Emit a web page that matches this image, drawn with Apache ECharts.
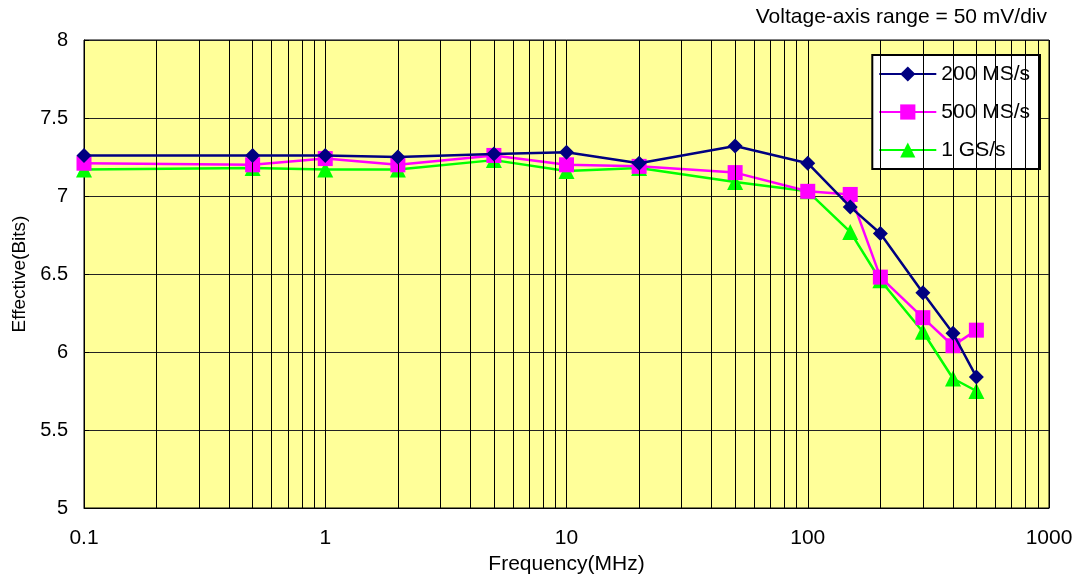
<!DOCTYPE html>
<html>
<head>
<meta charset="utf-8">
<script src="https://cdn.jsdelivr.net/npm/echarts@6/dist/echarts.min.js"></script>
<style>
  html, body { margin: 0; padding: 0; background: #fff; }
  #chart { width: 1086px; height: 582px; }
</style>
</head>
<body>
<div id="chart"></div>
<script>
// Frequency sweep (MHz) and effective number of bits per sample rate
const frequencies = [0.1, 0.5, 1, 2, 5, 10, 20, 50, 100, 150, 200, 300, 400, 500];
const enob200MS = [7.26, 7.26, 7.26, 7.25, 7.27, 7.28, 7.21, 7.32, 7.21, 6.93, 6.76, 6.38, 6.12, 5.84];
const enob500MS = [7.21, 7.20, 7.24, 7.20, 7.26, 7.20, 7.19, 7.15, 7.03, 7.01, 6.48, 6.22, 6.04, 6.14];
const enob1GS   = [7.17, 7.18, 7.17, 7.17, 7.23, 7.16, 7.18, 7.09, 7.03, 6.77, 6.46, 6.13, 5.83, 5.75];
const seriesNames = ['200 MS/s', '500 MS/s', '1 GS/s'];
// Intermediate log grid positions (2..9 in each decade)
const logGridValues = [];
[0.1, 1, 10, 100].forEach(function (d) {
  for (let k = 2; k <= 9; k++) logGridValues.push(+(d * k).toPrecision(3));
});

const font = 'Liberation Sans, Arial, sans-serif';

function pairs(vals) {
  return frequencies.map(function (f, i) { return [f, vals[i]]; });
}

const chart = echarts.init(document.getElementById('chart'));
chart.setOption({
  animation: false,
  backgroundColor: '#ffffff',
  title: {
    text: 'Voltage-axis range = 50 mV/div',
    right: 34,
    top: 2,
    textStyle: { fontFamily: font, fontSize: 21, fontWeight: 'normal', color: '#000' }
  },
  grid: {
    left: 84, right: 37, top: 40, bottom: 74,
    show: true,
    backgroundColor: '#FFFF99',
    borderColor: '#000',
    borderWidth: 1
  },
  legend: {
    data: seriesNames,
    orient: 'vertical',
    right: 46,
    top: 55,
    backgroundColor: '#fff',
    borderColor: '#000',
    borderWidth: 2,
    padding: [8, 10, 8, 6],
    itemWidth: 57,
    itemHeight: 19,
    itemGap: 16,
    textStyle: { fontFamily: font, fontSize: 21, lineHeight: 22, color: '#000' }
  },
  xAxis: {
    type: 'log',
    logBase: 10,
    min: 0.1,
    max: 1000,
    name: 'Frequency(MHz)',
    nameLocation: 'middle',
    nameGap: 40,
    nameTextStyle: { fontFamily: font, fontSize: 21, color: '#000' },
    axisLine: { show: true, lineStyle: { color: '#000', width: 1 } },
    axisTick: { show: false },
    axisLabel: {
      fontFamily: font, fontSize: 21, color: '#000', margin: 20,
      formatter: function (v) { return String(+v.toPrecision(6)); }
    },
    splitLine: { show: true, lineStyle: { color: '#000', width: 1 } }
  },
  yAxis: {
    type: 'value',
    min: 5,
    max: 8,
    interval: 0.5,
    name: 'Effective(Bits)',
    nameLocation: 'middle',
    nameGap: 53,
    nameTextStyle: { fontFamily: font, fontSize: 19, color: '#000' },
    axisLine: { show: true, lineStyle: { color: '#000', width: 1 } },
    axisTick: { show: true, inside: true, length: 5, lineStyle: { color: '#000' } },
    axisLabel: { fontFamily: font, fontSize: 20, color: '#000', margin: 16 },
    splitLine: { show: true, lineStyle: { color: '#222', width: 1 } }
  },
  series: [
    {
      name: 'logGrid',
      type: 'line',
      data: [],
      silent: true,
      z: 1,
      markLine: {
        silent: true,
        symbol: ['none', 'none'],
        label: { show: false },
        lineStyle: { color: '#000', width: 1, type: 'solid' },
        emphasis: { disabled: true },
        data: logGridValues.map(function (v) { return { xAxis: v }; })
      }
    },
    {
      name: seriesNames[0],
      type: 'line',
      z: 5,
      data: pairs(enob200MS),
      symbol: 'diamond',
      symbolSize: 15,
      itemStyle: { color: '#000080' },
      lineStyle: { color: '#000080', width: 2.5 }
    },
    {
      name: seriesNames[1],
      type: 'line',
      z: 4,
      data: pairs(enob500MS),
      symbol: 'rect',
      symbolSize: 15,
      itemStyle: { color: '#FF00FF' },
      lineStyle: { color: '#FF00FF', width: 2.5 }
    },
    {
      name: seriesNames[2],
      type: 'line',
      z: 3,
      data: pairs(enob1GS),
      symbol: 'triangle',
      symbolSize: 16,
      itemStyle: { color: '#00FF00' },
      lineStyle: { color: '#00FF00', width: 2.5 }
    }
  ]
});
</script>
</body>
</html>
